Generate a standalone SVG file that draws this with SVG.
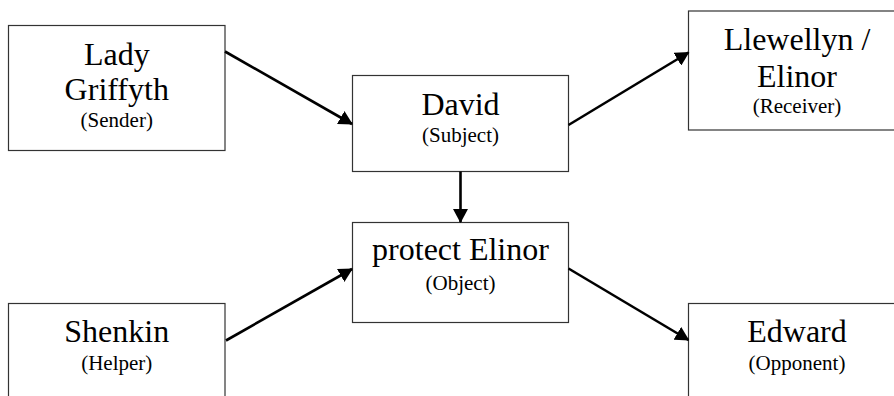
<svg xmlns="http://www.w3.org/2000/svg" width="894" height="396" viewBox="0 0 894 396">
<style>
.box{fill:#fff;stroke:#333;stroke-width:1.2}
text{font-family:'Liberation Serif','Times New Roman',serif;fill:#000;text-anchor:middle}
.big{font-size:32px}
.small{font-size:21px}
.conn{stroke:#000;stroke-width:2.6;fill:none;marker-end:url(#arr)}
</style>
<defs>
<marker id="arr" viewBox="0 0 14 15" refX="13" refY="7.5" markerWidth="14" markerHeight="15" markerUnits="userSpaceOnUse" orient="auto">
<path d="M0,0 L14,7.5 L0,15 z" fill="#000"/>
</marker>
</defs>
<rect width="894" height="396" fill="#fff"/>
<g id="sender">
<rect class="box" x="8.5" y="25.5" width="216.5" height="125"/>
<text class="big" x="116.75" y="65">Lady</text>
<text class="big" x="116.75" y="100">Griffyth</text>
<text class="small" x="116.75" y="127">(Sender)</text>
</g>
<g id="subject">
<rect class="box" x="352.5" y="75.5" width="216" height="96"/>
<text class="big" x="460.5" y="115">David</text>
<text class="small" x="460.5" y="141.5">(Subject)</text>
</g>
<g id="receiver">
<rect class="box" x="688.5" y="11" width="217" height="119"/>
<text class="big" x="797" y="50">Llewellyn /</text>
<text class="big" x="797" y="86.5">Elinor</text>
<text class="small" x="797" y="113">(Receiver)</text>
</g>
<g id="object">
<rect class="box" x="352.5" y="222.5" width="216" height="100"/>
<text class="big" x="460.5" y="260">protect Elinor</text>
<text class="small" x="460.5" y="290">(Object)</text>
</g>
<g id="helper">
<rect class="box" x="8.5" y="303.5" width="216.5" height="125"/>
<text class="big" x="116.75" y="341.5">Shenkin</text>
<text class="small" x="116.75" y="370">(Helper)</text>
</g>
<g id="opponent">
<rect class="box" x="688.5" y="303.5" width="217" height="125"/>
<text class="big" x="797" y="341.5">Edward</text>
<text class="small" x="797" y="370">(Opponent)</text>
</g>
<g id="connectors">
<line class="conn" x1="225" y1="51.5" x2="352" y2="124"/>
<line class="conn" x1="568.5" y1="125" x2="688.5" y2="52.5"/>
<line class="conn" x1="226" y1="340.5" x2="352" y2="269"/>
<line class="conn" x1="568.5" y1="268.5" x2="688.5" y2="340"/>
<line class="conn" x1="460.5" y1="171.5" x2="460.5" y2="222"/>
</g>
</svg>
